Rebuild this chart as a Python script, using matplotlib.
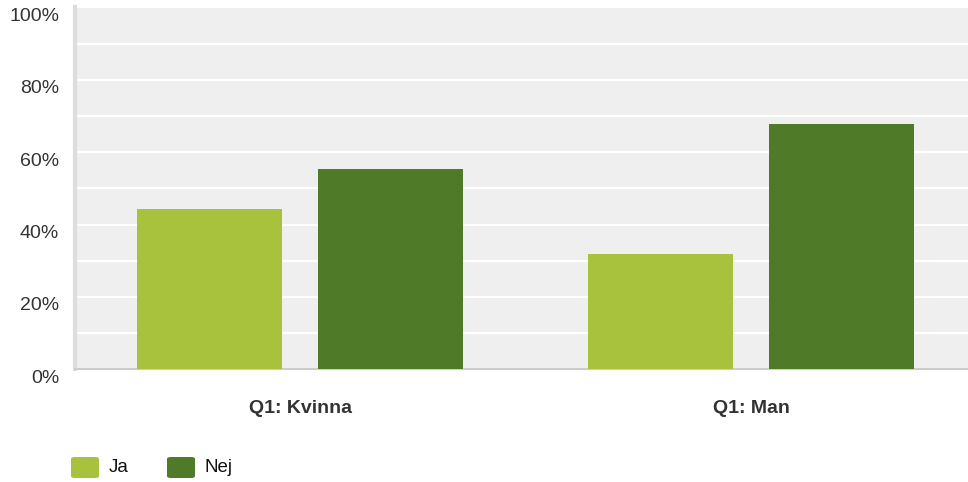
import matplotlib
matplotlib.use("Agg")
import matplotlib.pyplot as plt
import matplotlib.transforms as mtransforms
from matplotlib.patches import FancyBboxPatch
import numpy as np

categories = ["Q1: Kvinna", "Q1: Man"]
series_names = ["Ja", "Nej"]
ja_values = [44.2, 31.9]
nej_values = [55.3, 67.8]
y_tick_labels = ["0%", "20%", "40%", "60%", "80%", "100%"]

colors = ["#a8c23e", "#4f7a28"]
plt.rcParams['font.family'] = ['Liberation Sans', 'DejaVu Sans']

W, H = 968, 482
fig = plt.figure(figsize=(W / 100, H / 100), dpi=100)
left, right, top, bottom = 75, 976.5, 7.3, 369.3
ax = fig.add_axes([left / W, 1 - bottom / H, (right - left) / W, (bottom - top) / H])
ax.set_facecolor("#efefef")

x = np.arange(len(categories))
bw = 0.3215
off = 0.2007
ax.bar(x - off, ja_values, width=bw, color=colors[0], zorder=3, linewidth=0)
ax.bar(x + off, nej_values, width=bw, color=colors[1], zorder=3, linewidth=0)

ax.set_xlim(-0.5, 1.5)
ax.set_ylim(0, 100)
ax.set_yticks(np.arange(0, 101, 20))
ax.set_yticklabels(y_tick_labels, fontsize=14, color="#333333")
ax.set_yticks(np.arange(10, 100, 20), minor=True)
ax.grid(True, axis="y", which="both", color="white", linewidth=1.6, zorder=1)
ax.tick_params(axis="y", which="both", length=0, pad=11.5)
shift = mtransforms.ScaledTranslation(0, -7 / 100, fig.dpi_scale_trans)
for lab in ax.get_yticklabels():
    lab.set_transform(lab.get_transform() + shift)
ax.set_xticks(x)
ax.set_xticklabels(categories, fontsize=14, fontweight="bold", color="#333333")
ax.tick_params(axis="x", length=0, pad=22)

for s in ["top", "right"]:
    ax.spines[s].set_visible(False)
ax.spines["left"].set_color("#dddddd")
ax.spines["left"].set_linewidth(3)
ax.spines["bottom"].set_color("#cccccc")
ax.spines["bottom"].set_linewidth(1.5)

# legend
leg_y = 457
positions = [71, 167]
for name, c, px in zip(series_names, colors, positions):
    p = FancyBboxPatch((px / W, 1 - (leg_y + 21) / H), 28 / W, 21 / H,
                       boxstyle="round,pad=0,rounding_size=0.004",
                       transform=fig.transFigure, facecolor=c, edgecolor="none")
    fig.patches.append(p)
    fig.text((px + 38) / W, 1 - (leg_y + 10.5) / H, name, fontsize=13.5,
             color="#111111", va="center", ha="left")

fig.savefig("out.png", dpi=100)
